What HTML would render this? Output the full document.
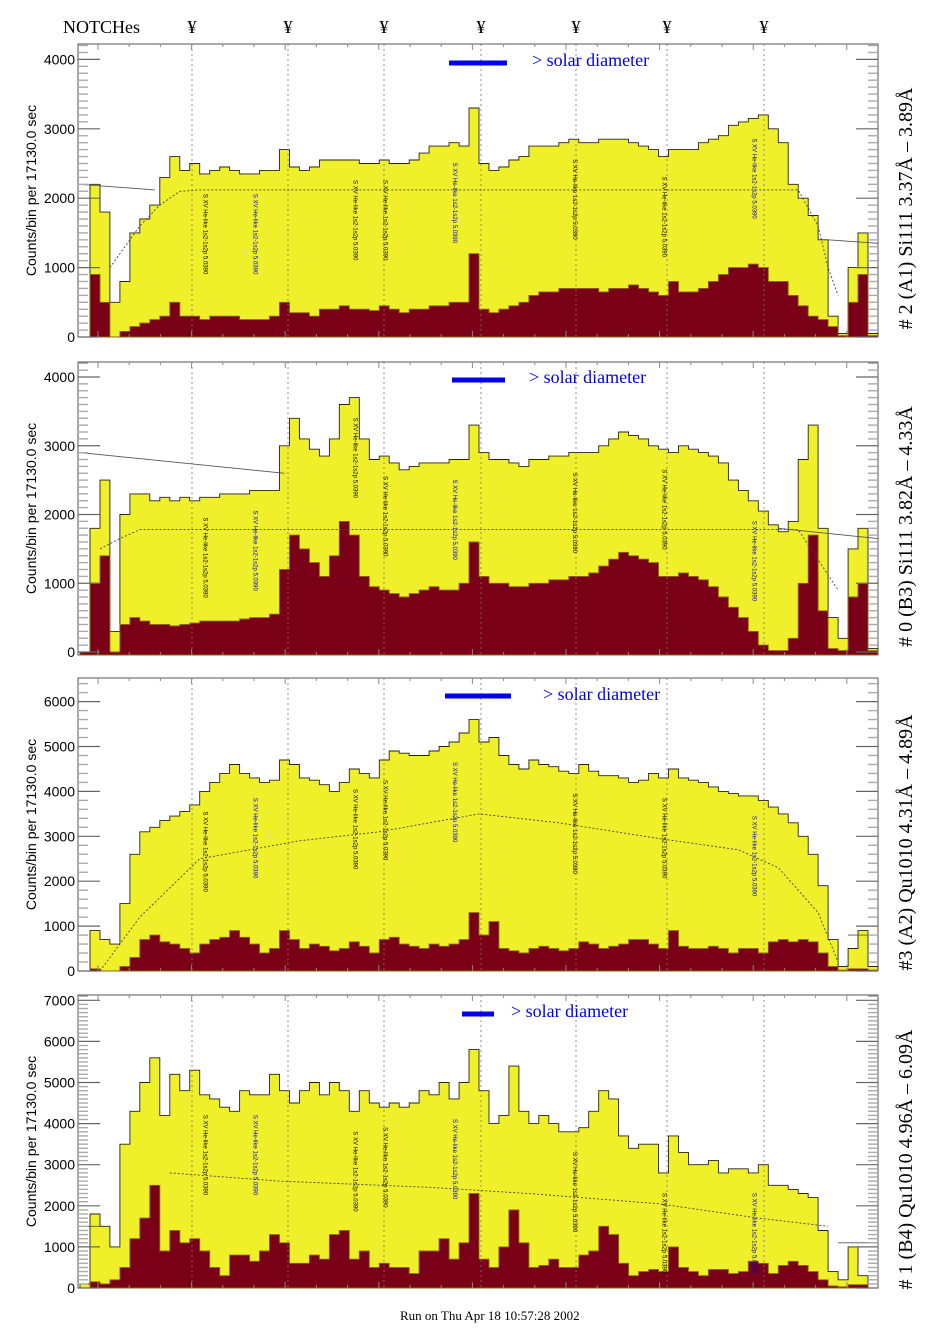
<!DOCTYPE html>
<html><head><meta charset="utf-8">
<style>
html,body{margin:0;padding:0;background:#fff;}
svg{display:block;}
text{font-family:"Liberation Serif",serif;}
.tick{font-family:"Liberation Sans",sans-serif;font-size:14px;}
</style></head>
<body>
<svg id="chart" width="940" height="1329" viewBox="0 0 940 1329" xmlns="http://www.w3.org/2000/svg">
<rect width="940" height="1329" fill="#fff"/>
<text x="63" y="33" font-size="18">NOTCHes</text>
<text x="400" y="1320" font-size="13">Run on Thu Apr 18 10:57:28 2002</text>
</svg>
<script>
// ---- data arrays (80 bins per panel, counts per bin) ----
const p1Total=[0,2200,1800,500,800,1500,1700,1900,2300,2600,2400,2500,2350,2400,2450,2400,2350,2350,2400,2400,2700,2450,2400,2450,2550,2550,2550,2550,2500,2500,2550,2500,2500,2550,2650,2750,2750,2800,2750,3300,2500,2400,2450,2550,2600,2750,2750,2750,2800,2850,2800,2800,2850,2850,2850,2800,2750,2700,2600,2700,2700,2700,2800,2850,2900,3050,3100,3150,3200,3000,2800,2200,2000,1750,1400,300,50,1000,1500,50];
const p1Hard=[0,900,500,0,80,150,200,250,300,500,300,300,250,300,300,300,250,250,250,300,500,350,350,300,400,400,450,400,400,380,450,400,350,400,400,450,450,500,500,1200,400,350,400,450,500,600,650,650,700,700,700,700,650,700,700,750,700,650,600,800,650,650,700,800,900,1000,1000,1050,1000,800,800,600,450,300,250,150,20,500,900,20];
const p2Total=[0,1800,2500,300,2000,2300,2300,2200,2250,2200,2250,2200,2250,2250,2300,2300,2300,2350,2350,2350,3000,3400,3100,2950,2850,3100,3600,3700,3100,2800,2850,2750,2650,2700,2750,2750,2750,2800,2800,3300,2900,2800,2800,2750,2700,2800,2800,2850,2850,2900,2900,2900,3000,3100,3200,3150,3100,3000,2950,2900,3000,2950,2900,2850,2750,2500,2350,2200,2050,1850,1750,1900,2800,3300,1800,500,200,1500,1800,50];
const p2Hard=[0,1000,1400,0,400,500,450,400,400,380,400,420,450,450,450,450,480,500,500,550,1200,1700,1500,1300,1100,1400,1900,1700,1100,950,900,850,800,850,900,950,900,900,1000,1600,1100,1000,1000,950,950,1000,1000,1050,1050,1100,1100,1150,1250,1350,1450,1400,1350,1300,1100,1100,1150,1100,1050,950,800,650,500,300,100,20,20,200,1000,1700,600,50,20,800,1000,20];
const p3Total=[0,900,700,600,1500,2600,3100,3200,3350,3450,3550,3700,4000,4200,4400,4600,4400,4300,4200,4250,4700,4600,4300,4250,4150,4000,4200,4500,4400,4300,4700,4900,4850,4800,4800,4900,5000,5100,5300,5600,5100,5200,4800,4600,4500,4700,4600,4550,4450,4400,4600,4450,4350,4350,4300,4200,4250,4400,4300,4500,4300,4250,4200,4100,4000,3950,3900,3900,3800,3650,3500,3300,3000,2600,1900,700,100,500,900,100];
const p3Hard=[0,50,0,0,100,300,700,800,650,600,500,400,600,700,750,900,750,600,400,500,900,700,500,600,550,450,500,650,550,400,700,750,600,550,500,600,550,600,700,1300,800,1100,500,450,400,500,550,500,450,500,650,600,500,550,600,700,700,600,500,900,550,500,500,550,500,400,500,500,400,650,700,650,700,650,400,100,20,50,50,20];
const p4Total=[100,1800,1500,1000,3500,4300,5000,5600,4200,5200,4800,5300,4700,4600,4400,4300,4800,4700,4700,5200,4800,4500,4800,5000,4700,5000,4800,4300,4800,4500,4400,4500,4400,4500,4800,4700,5000,4600,5000,5800,4800,4000,4200,5400,4300,4000,4200,4000,3800,3800,3900,4300,4800,4600,3700,3400,3500,3500,2800,3700,3300,3000,3000,3100,2800,2900,2900,2800,3000,2500,2500,2400,2300,2200,1400,400,200,1000,300,0];
const p4Hard=[0,150,100,200,500,1200,1700,2500,900,1400,1100,1200,900,500,300,800,800,650,900,1300,1100,600,600,800,700,1300,1400,700,900,500,600,500,500,350,900,900,1200,700,1100,2300,700,500,1000,1900,1100,500,550,700,500,500,800,900,1500,1300,600,300,400,450,400,1000,500,400,300,450,450,350,400,650,600,350,550,650,550,400,200,50,30,80,80,0];
// model (dotted) curves: sampled at bin index -> value
const p1ModelIdx=[3,6,8,10,12,72,74,75,76];
const p1ModelVal=[1000,1600,1900,2100,2120,2120,1600,1000,600];
const p2ModelIdx=[2,4,6,10,70,72,76];
const p2ModelVal=[1500,1650,1780,1780,1780,1780,900];
const p3ModelIdx=[2,6,12,22,30,40,48,58,66,70,74,76];
const p3ModelVal=[0,1200,2500,2900,3100,3500,3300,2950,2700,2300,1300,200];
const p4ModelIdx=[9,20,35,45,58,68,75];
const p4ModelVal=[2800,2600,2450,2300,2050,1700,1500];
const yTicks1=[0,1000,2000,3000,4000];
const yTicks3=[0,1000,2000,3000,4000,5000,6000];
const yTicks4=[0,1000,2000,3000,4000,5000,6000,7000];
const notchX=[192,288,384,481,576,667,764];

const svg=document.getElementById('chart');
const NS='http://www.w3.org/2000/svg';
function mk(tag,attrs,parent){const e=document.createElementNS(NS,tag);for(const k in attrs)e.setAttribute(k,attrs[k]);(parent||svg).appendChild(e);return e;}

const X0=78,X1=878,BX0=80,NB=80,BW=(X1-BX0)/NB;
function xOf(i){return BX0+i*BW;}

const panels=[
 {name:'panel-a1',top:44,bottom:337,ppk:69.4,total:p1Total,hard:p1Hard,ticks:yTicks1,minor:100,mi:p1ModelIdx,mv:p1ModelVal,
  label:'# 2 (A1) Si111  3.37Å – 3.89Å',bar:[449,507,63],sd:[532,66],
  solid:[[0,2200],[7.5,2120],null,[75,1400],[80,1350]]},
 {name:'panel-b3',top:362,bottom:655,ppk:68.75,zero:652,total:p2Total,hard:p2Hard,ticks:yTicks1,minor:100,mi:p2ModelIdx,mv:p2ModelVal,
  label:'# 0 (B3) Si111  3.82Å – 4.33Å',bar:[452,505,380],sd:[529,383],
  solid:[[0,2900],[20.5,2600],null,[70,1800],[80,1650]]},
 {name:'panel-a2',top:678,bottom:971,ppk:44.9,total:p3Total,hard:p3Hard,ticks:yTicks3,minor:200,mi:p3ModelIdx,mv:p3ModelVal,
  label:'#3 (A2) Qu1010  4.31Å – 4.89Å',bar:[445,511,696],sd:[543,700],
  solid:[[0,1000],[1.2,1000],null,[77,800],[80,800]]},
 {name:'panel-b4',top:995,bottom:1288,ppk:41.1,total:p4Total,hard:p4Hard,ticks:yTicks4,minor:100,mi:p4ModelIdx,mv:p4ModelVal,
  label:'# 1 (B4) Qu1010 4.96Å – 6.09Å',bar:[462,494,1014],sd:[511,1017],
  solid:[[0,1500],[2,1500],null,[76,1100],[80,1100]]}
];

// notch markers
notchX.forEach((x,k)=>{
  const t=mk('text',{x:x,y:33,'font-size':18,'text-anchor':'middle'});
  
  
  t.textContent='¥';
});

function stepPath(vals,yOf,base){
  let d='M'+xOf(0)+' '+base;
  vals.forEach((v,i)=>{const y=yOf(v).toFixed(1);d+=' V'+y+' H'+xOf(i+1).toFixed(1);});
  d+=' V'+base+' Z';return d;
}

panels.forEach((p,pi)=>{
  const zero=p.zero||p.bottom;
  const yOf=v=>zero-v*p.ppk/1000;
  const g=mk('g',{});
  
  
  // frame
  const fr=mk('rect',{x:X0,y:p.top,width:X1-X0,height:p.bottom-p.top,fill:'#fff',stroke:'#555','stroke-width':1},g);
  
  
  // total histogram
  const tot=mk('path',{d:stepPath(p.total,yOf,p.bottom),fill:'#f0f02a',stroke:'#222','stroke-width':0.9},g);
  
  
  const hd=mk('path',{d:stepPath(p.hard,yOf,p.bottom),fill:'#7a0018',stroke:'#8a6a10','stroke-width':0.9},g);
  
  
  // notch lines
  notchX.forEach(x=>{
    const l=mk('line',{x1:x,x2:x,y1:p.top,y2:p.bottom,stroke:'#777','stroke-width':0.8,'stroke-dasharray':'2,3'},g);
    
    
  });
  // model dotted
  let md='';p.mi.forEach((i,k)=>{md+=(k?' L':'M')+xOf(i).toFixed(1)+' '+yOf(p.mv[k]).toFixed(1);});
  const mp=mk('path',{d:md,fill:'none',stroke:'#444','stroke-width':0.9,'stroke-dasharray':'2,2'},g);
  
  
  // solid background lines
  let sd='',st=true;p.solid.forEach(pt=>{if(!pt){st=true;return;}sd+=(st?' M':' L')+xOf(pt[0]).toFixed(1)+' '+yOf(pt[1]).toFixed(1);st=false;});
  const sp=mk('path',{d:sd,fill:'none',stroke:'#555','stroke-width':0.9},g);
  
  
  // y ticks
  const ymax=p.ticks[p.ticks.length-1];
  for(let v=0;v<=ymax+p.minor*5;v+=p.minor){
    const y=yOf(v);if(y<p.top)break;
    const major=v%1000===0;
    const len=major?22:10;
    mk('line',{x1:X0,x2:X0+len,y1:y,y2:y,stroke:major?'#666':'#aaa','stroke-width':major?1.2:1.4},g);
    mk('line',{x1:X1,x2:X1-len,y1:y,y2:y,stroke:major?'#666':'#aaa','stroke-width':major?1.2:1.4},g);
  }
  p.ticks.forEach(v=>{
    const t=mk('text',{x:75,y:yOf(v)+5,'text-anchor':'end',class:'tick'},g);
    
    
    t.textContent=v;
  });
  // x ticks (top & bottom)
  for(let x=X0+20;x<X1;x+=31.2){
    const big=Math.round((x-X0-20)/31.2)%3===0;
    mk('line',{x1:x,x2:x,y1:p.top,y2:p.top+(big?6:3),stroke:'#888','stroke-width':1},g);
    mk('line',{x1:x,x2:x,y1:p.bottom,y2:p.bottom-(big?6:3),stroke:'#888','stroke-width':1},g);
  }
  // y axis title
  const cy=(p.top+p.bottom)/2;
  const yt=mk('text',{x:0,y:0,'font-size':14,'text-anchor':'middle',transform:'translate(36 '+cy+') rotate(-90)',style:'font-family:"Liberation Sans",sans-serif'},g);
  
  
  yt.textContent='Counts/bin per  17130.0 sec';
  // right label
  const rl=mk('text',{x:0,y:0,'font-size':20,'text-anchor':'middle',transform:'translate(912 '+(cy+18)+') rotate(-90)'},g);
  
  
  rl.textContent=p.label;
  // solar diameter bar
  const b=mk('rect',{x:p.bar[0],y:p.bar[2]-2.5,width:p.bar[1]-p.bar[0],height:5,fill:'#0000ee'},g);
  
  
  const s=mk('text',{x:p.sd[0],y:p.sd[1],'font-size':18,fill:'#0000ee'},g);
  
  
  s.textContent='> solar diameter';
  // small line-id annotations
  [12,17,27,30,37,49,58,67].forEach((i,k)=>{
    const x=xOf(i)+4,y=yOf(p.total[i])+20;
    const a=mk('text',{x:0,y:0,'font-size':6,fill:k%3===1?'#0000cc':'#000',transform:'translate('+x+' '+y+') rotate(90)',style:'font-family:"Liberation Sans",sans-serif'},g);
    
    
    a.textContent='S XV He-like 1s2-1s2p 5.0390';
  });
});
</script>
</body></html>
